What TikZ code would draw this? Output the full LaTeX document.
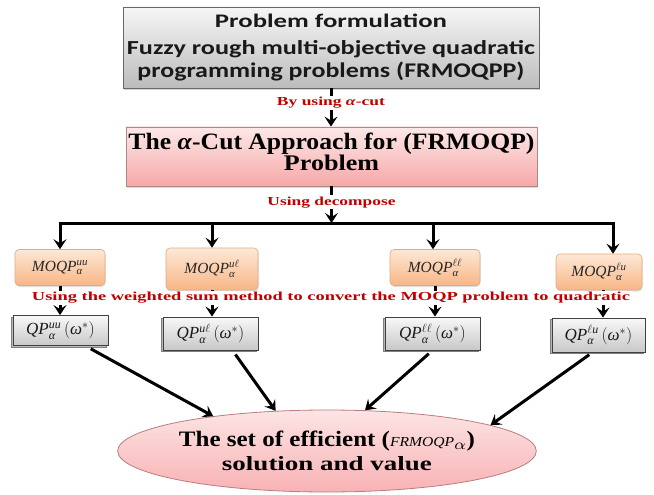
\documentclass[tikz,border=0pt]{standalone}
\usepackage{amsmath}
\usepackage{graphicx}
\usepackage{fontspec}
\setmainfont{Liberation Serif}
\newfontfamily\calib{Carlito}
\usetikzlibrary{arrows.meta,shapes.geometric,shadows}
\newcommand{\fitline}[3]{\resizebox{#1}{#2}{#3}}
\newcommand{\itx}[1]{\text{\itshape #1}}
\definecolor{lblred}{RGB}{192,0,0}
\definecolor{gTop}{RGB}{246,246,246}
\definecolor{gBot}{RGB}{188,188,188}
\definecolor{boxgray}{RGB}{105,105,105}
\definecolor{pTop}{RGB}{253,232,232}
\definecolor{pBot}{RGB}{247,168,168}
\definecolor{pBorder}{RGB}{175,135,135}
\definecolor{oTop}{RGB}{253,232,214}
\definecolor{oBot}{RGB}{248,182,134}
\definecolor{oBorder}{RGB}{222,172,132}
\definecolor{eTop}{RGB}{253,228,228}
\definecolor{eBot}{RGB}{248,178,180}
\definecolor{eBorder}{RGB}{185,125,125}
\definecolor{qTop}{RGB}{248,248,248}
\definecolor{qBot}{RGB}{200,200,200}
\begin{document}
\begin{tikzpicture}[x=1pt,y=-1pt,
  arr/.style={line width=3pt,-{Stealth[length=10pt,width=13pt,inset=4pt]}},
  lbl/.style={fill=white,inner sep=1.5pt,text=lblred,font=\fontsize{12}{12}\selectfont\bfseries},
  topbox/.style={draw=boxgray,line width=0.8pt,top color=gTop,bottom color=gBot,
    minimum width=416pt,minimum height=81pt,inner sep=0pt,align=center,text=black!90,
    font=\fontsize{12}{23}\selectfont\calib\bfseries,
    drop shadow={shadow xshift=0.5pt,shadow yshift=-2pt,opacity=0.35}},
  alphabox/.style={draw=pBorder,line width=0.8pt,top color=pTop,bottom color=pBot,
    minimum width=411pt,minimum height=59pt,inner sep=0pt,align=center,text=black,
    font=\fontsize{12}{21}\selectfont\bfseries,
    drop shadow={shadow xshift=0.5pt,shadow yshift=-2pt,opacity=0.3}},
  mbox/.style={draw=oBorder,line width=0.6pt,rounded corners=4pt,top color=oTop,bottom color=oBot,
    inner sep=0pt,font=\fontsize{15.5}{15.5}\selectfont,text=black!85,
    drop shadow={shadow xshift=0.5pt,shadow yshift=-1.5pt,opacity=0.25}},
  qbox/.style={draw=black!75,line width=0.8pt,top color=qTop,bottom color=qBot,
    inner sep=0pt,font=\fontsize{17}{17}\selectfont,text=black!90,
    general shadow={shadow xshift=-1.8pt,shadow yshift=-1.8pt,fill=gray!55,draw=black!50}},
  ellbox/.style={ellipse,draw=eBorder,line width=0.8pt,top color=eTop,bottom color=eBot,
    minimum width=418pt,minimum height=82pt,inner sep=0pt,align=center,text=black,
    font=\fontsize{12}{24}\selectfont\bfseries}
]
\useasboundingbox (0,0) rectangle (654,495);

% boxes
\node[topbox] (top) at (331,47.5) {\fitline{232pt}{13.5pt}{Problem formulation}\\[4pt]
  \fitline{408pt}{14pt}{Fuzzy rough multi-objective quadratic}\\
  \fitline{387pt}{15.5pt}{programming problems (FRMOQPP)}};
\node[alphabox] (alpha) at (331.5,156.5) {\fitline{406pt}{16.5pt}{The \textit{α}-Cut Approach for (FRMOQP)}\\
  \fitline{95pt}{15.5pt}{Problem}\rule[-9pt]{0pt}{9pt}};

\node[mbox,minimum width=90pt,minimum height=36pt] (m1) at (60,267.5) {$\itx{MOQP}^{\itx{uu}}_{\itx{α}}$};
\node[mbox,minimum width=92pt,minimum height=42pt] (m2) at (212,269) {$\itx{MOQP}^{\itx{u}\ell}_{\itx{α}}$};
\node[mbox,minimum width=90pt,minimum height=36pt] (m3) at (435,267.5) {$\itx{MOQP}^{\ell\ell}_{\itx{α}}$};
\node[mbox,minimum width=86pt,minimum height=36pt] (m4) at (599,272) {$\itx{MOQP}^{\ell\itx{u}}_{\itx{α}}$};

\node[qbox,minimum width=95pt,minimum height=30pt] (q1) at (60.5,330.5) {$\itx{QP}^{\itx{uu}}_{\itx{α}}\,(\itx{ω}^{*})$};
\node[qbox,minimum width=95pt,minimum height=33pt] (q2) at (210.5,333.5) {$\itx{QP}^{\itx{u}\ell}_{\itx{α}}\,(\itx{ω}^{*})$};
\node[qbox,minimum width=95pt,minimum height=33pt] (q3) at (432.5,333.5) {$\itx{QP}^{\ell\ell}_{\itx{α}}\,(\itx{ω}^{*})$};
\node[qbox,minimum width=93pt,minimum height=34pt] (q4) at (598.5,335) {$\itx{QP}^{\ell\itx{u}}_{\itx{α}}\,(\itx{ω}^{*})$};

\node[ellbox] (ell) at (327,451) {\fitline{296pt}{15.5pt}{The set of efficient ({\mdseries\itshape\fontsize{7.5}{7.5}\selectfont FRMOQP}$_{\alpha}$)}\\
  \fitline{210pt}{14pt}{solution and value}};

% connectors top -> alpha -> bar
\draw[arr] (top.south) -- node[lbl,pos=0.38] (lab1) {\fitline{108pt}{8.5pt}{By using \textit{α}-cut}} (top.south |- alpha.north);
\coordinate (b1) at (60,223);
\coordinate (b2) at (212,223);
\coordinate (b3) at (433,223);
\coordinate (b4) at (613,223);
\coordinate (bj) at (alpha.south |- b1);
\draw[arr] (alpha.south) -- node[lbl,pos=0.43] (lab2) {\fitline{128pt}{8.5pt}{Using decompose}} (bj);
\draw[arr] (bj) -- (b1) -- (b1 |- m1.north);
\draw[arr] (bj) -- (b4) -- (b4 |- m4.north);
\draw[arr] (b2) -- (b2 |- m2.north);
\draw[arr] (b3) -- (b3 |- m3.north);

% MOQP -> QP
\draw[arr] (m1.south) -- (m1.south |- q1.north);
\draw[arr] (m2.south) -- (m2.south |- q2.north);
\draw[arr] (m3.south) -- (m3.south |- q3.north);
\draw[arr] ([xshift=4pt]m4.south) -- ([xshift=4pt]m4.south |- q4.north);
\node[lbl] (wsum) at (331,298) {\fitline{598pt}{8.5pt}{Using the weighted sum method to convert the MOQP problem to quadratic}};

% QP -> ellipse
\draw[arr,shorten <=6pt] ([xshift=25pt]q1.south) -- (ell.163);
\draw[arr,shorten <=5pt] ([xshift=22pt]q2.south) -- (ell.142.8);
\draw[arr,shorten <=5pt] (q3.south) -- (ell.47.4);
\draw[arr,shorten <=4pt] ([xshift=-6pt]q4.south) -- (ell.9.5);
\end{tikzpicture}
\end{document}
